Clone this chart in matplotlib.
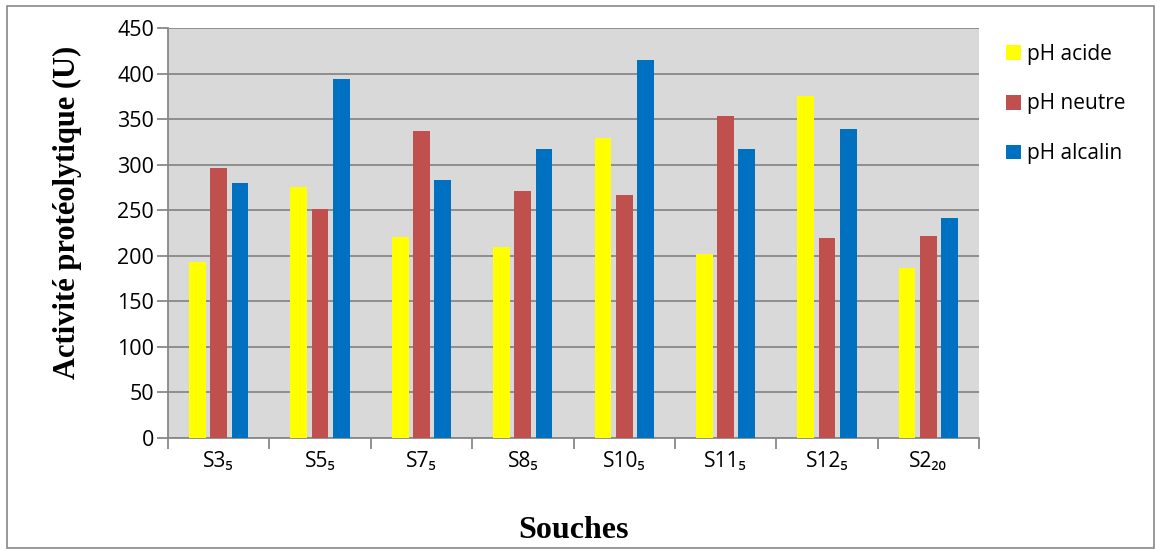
import matplotlib
matplotlib.use("Agg")
import matplotlib.pyplot as plt
import numpy as np
from matplotlib.patches import Rectangle

categories = ["S3₅", "S5₅", "S7₅", "S8₅", "S10₅", "S11₅", "S12₅", "S2₂₀"]
series_names = ["pH acide", "pH neutre", "pH alcalin"]
ph_acide = [193, 275, 221, 210, 329, 202, 375, 187]
ph_neutre = [296, 251, 337, 271, 267, 353, 220, 222]
ph_alcalin = [280, 394, 283, 317, 415, 317, 339, 242]
colors = ["#FFFF00", "#C0504D", "#0070C0"]
yticks = [0, 50, 100, 150, 200, 250, 300, 350, 400, 450]

plt.rcParams['font.family'] = ['Open Sans', 'DejaVu Sans']

fig = plt.figure(figsize=(11.58, 5.49), dpi=100)
ax = fig.add_axes([168/1158, 1-438/549, (979-168)/1158, (438-28)/549])
ax.set_facecolor("#D9D9D9")

x = np.arange(len(categories))
w = 0.165
off = 0.21
for i, (vals, name, c) in enumerate(zip([ph_acide, ph_neutre, ph_alcalin], series_names, colors)):
    ax.bar(x + (i - 1) * off, vals, width=w, color=c, label=name, zorder=3)

ax.set_xlim(-0.5, len(categories) - 0.5)
ax.set_ylim(0, 450)
ax.set_yticks(yticks)
ax.yaxis.grid(True, color="#888888", linewidth=1.3, zorder=1)
ax.set_axisbelow(True)

ax.set_xticks(np.arange(len(categories) + 1) - 0.5)
ax.set_xticklabels([])
ax.set_xticks(x, minor=True)
ax.set_xticklabels(categories, minor=True, fontsize=15)
ax.tick_params(axis='x', which='major', length=8, color="#888888", width=1.3)
ax.tick_params(axis='x', which='minor', length=0, pad=9)
ax.tick_params(axis='y', length=8, color="#888888", width=1.3, labelsize=15.5, pad=2)

for s in ["top", "right"]:
    ax.spines[s].set_visible(False)
for s in ["left", "bottom"]:
    ax.spines[s].set_color("#888888")
    ax.spines[s].set_linewidth(1.3)

ax.set_ylabel("Activité protéolytique (U)", family="Liberation Serif", fontweight="bold", fontsize=22)
ax.yaxis.set_label_coords(-0.106, 0.55)
fig.text(573/1158, 1-530/549, "Souches", family="Liberation Serif", fontweight="bold", fontsize=23,
         ha="center", va="center")

leg = fig.legend(loc="upper left", bbox_to_anchor=(987/1158, 1-25/549), frameon=False, fontsize=15,
                 handlelength=0.72, handleheight=0.72, handletextpad=0.3, labelspacing=1.38)

fig.patches.append(Rectangle((7/1158, 1-548/549), (1154-7)/1158, (548-6)/549, transform=fig.transFigure,
                             fill=False, edgecolor="#888888", linewidth=1.2))

fig.savefig("out.png", dpi=100)
